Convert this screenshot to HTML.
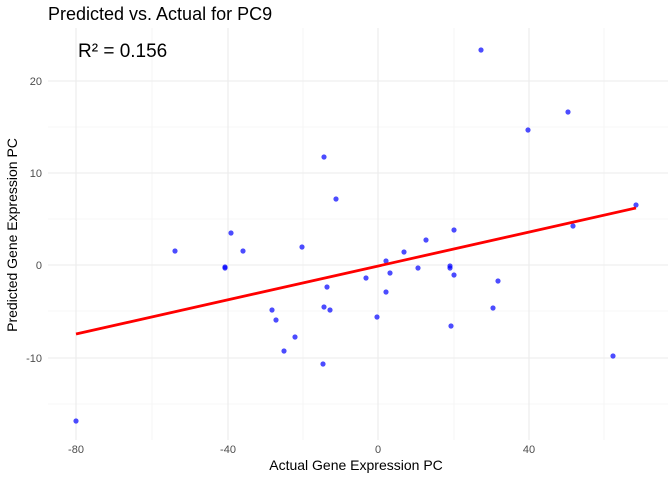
<!DOCTYPE html>
<html><head><meta charset="utf-8"><style>body{margin:0;background:#fff}svg{display:block;font-family:"Liberation Sans",sans-serif}</style></head><body>
<svg width="672" height="480" viewBox="0 0 672 480" xmlns="http://www.w3.org/2000/svg">
<rect width="672" height="480" fill="#fff"/>
<g stroke="#f0f0f0" stroke-width="0.6">
<line x1="152" y1="28" x2="152" y2="440"/><line x1="303" y1="28" x2="303" y2="440"/><line x1="454" y1="28" x2="454" y2="440"/><line x1="604" y1="28" x2="604" y2="440"/>
<line x1="48" y1="127" x2="668" y2="127"/><line x1="48" y1="219" x2="668" y2="219"/><line x1="48" y1="311" x2="668" y2="311"/><line x1="48" y1="404" x2="668" y2="404"/>
</g>
<g stroke="#ebebeb" stroke-width="1.1">
<line x1="76" y1="28" x2="76" y2="440"/><line x1="228" y1="28" x2="228" y2="440"/><line x1="378" y1="28" x2="378" y2="440"/><line x1="529" y1="28" x2="529" y2="440"/>
<line x1="48" y1="81" x2="668" y2="81"/><line x1="48" y1="173" x2="668" y2="173"/><line x1="48" y1="265" x2="668" y2="265"/><line x1="48" y1="358" x2="668" y2="358"/>
</g>
<g fill="#0000ff" fill-opacity="0.7">
<circle cx="76" cy="421" r="2.6"/><circle cx="175" cy="251" r="2.6"/><circle cx="231" cy="233" r="2.6"/><circle cx="243" cy="251" r="2.6"/><circle cx="225" cy="267" r="2.6"/><circle cx="225" cy="268" r="2.6"/><circle cx="302" cy="247" r="2.6"/><circle cx="272" cy="310" r="2.6"/><circle cx="276" cy="320" r="2.6"/><circle cx="284" cy="351" r="2.6"/><circle cx="295" cy="337" r="2.6"/><circle cx="324" cy="157" r="2.6"/><circle cx="336" cy="199" r="2.6"/><circle cx="327" cy="287" r="2.6"/><circle cx="324" cy="307" r="2.6"/><circle cx="330" cy="310" r="2.6"/><circle cx="323" cy="364" r="2.6"/><circle cx="366" cy="278" r="2.6"/><circle cx="377" cy="317" r="2.6"/><circle cx="386" cy="261" r="2.6"/><circle cx="390" cy="273" r="2.6"/><circle cx="386" cy="292" r="2.6"/><circle cx="404" cy="252" r="2.6"/><circle cx="418" cy="268" r="2.6"/><circle cx="426" cy="240" r="2.6"/><circle cx="450" cy="266" r="2.6"/><circle cx="450" cy="268" r="2.6"/><circle cx="454" cy="230" r="2.6"/><circle cx="454" cy="275" r="2.6"/><circle cx="451" cy="326" r="2.6"/><circle cx="481" cy="50" r="2.6"/><circle cx="493" cy="308" r="2.6"/><circle cx="498" cy="281" r="2.6"/><circle cx="528" cy="130" r="2.6"/><circle cx="568" cy="112" r="2.6"/><circle cx="573" cy="226" r="2.6"/><circle cx="613" cy="356" r="2.6"/><circle cx="636" cy="205" r="2.6"/>
</g>
<line x1="76" y1="334" x2="636" y2="208" stroke="#ff0000" stroke-width="2.8"/>
<text x="78" y="57" font-size="19" fill="#000">R² = 0.156</text>
<g font-size="11" fill="#4d4d4d" text-anchor="middle">
<text x="76" y="453">-80</text><text x="228" y="453">-40</text><text x="378" y="453">0</text><text x="529" y="453">40</text>
</g>
<g font-size="11" fill="#4d4d4d" text-anchor="end">
<text x="42" y="85">20</text><text x="42" y="177">10</text><text x="42" y="269">0</text><text x="42" y="362">-10</text>
</g>
<text x="356" y="470" font-size="14" text-anchor="middle" fill="#000">Actual Gene Expression PC</text>
<text transform="translate(17,235) rotate(-90)" font-size="14" text-anchor="middle" fill="#000">Predicted Gene Expression PC</text>
<text x="48" y="20" font-size="18" fill="#000">Predicted vs. Actual for PC9</text>
</svg>
</body></html>
